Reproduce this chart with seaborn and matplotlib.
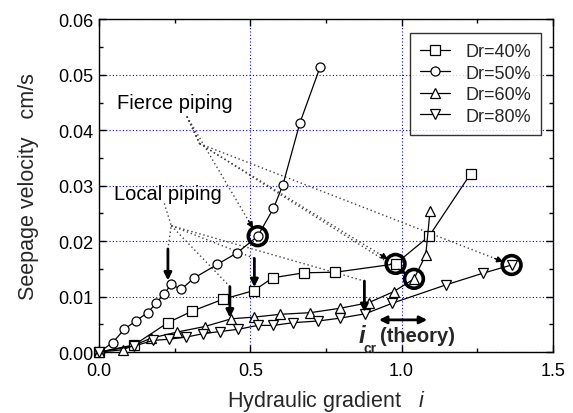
import numpy as np
import matplotlib
matplotlib.use("Agg")
import matplotlib.pyplot as plt
from matplotlib.ticker import MultipleLocator, FormatStrFormatter
import pandas as pd
import seaborn as sns

# Seepage velocity vs hydraulic gradient for four relative densities
gradient_40 = [0.0, 0.116, 0.227, 0.308, 0.408, 0.512, 0.574, 0.678, 0.781, 0.980, 1.091, 1.229]
velocity_40 = [0.0, 0.0013, 0.0053, 0.0074, 0.0095, 0.0111, 0.0134, 0.0143, 0.0144, 0.0159, 0.0209, 0.0322]

gradient_50 = [0.0, 0.044, 0.083, 0.120, 0.160, 0.188, 0.213, 0.238, 0.271, 0.312, 0.390,
               0.456, 0.524, 0.576, 0.607, 0.664, 0.731]
velocity_50 = [0.0, 0.0017, 0.0041, 0.0056, 0.0071, 0.0088, 0.0104, 0.0122, 0.0113, 0.0133, 0.0158,
               0.0179, 0.0209, 0.0259, 0.0301, 0.0414, 0.0515]

gradient_60 = [0.0, 0.077, 0.172, 0.257, 0.349, 0.437, 0.512, 0.598, 0.698, 0.797, 0.891,
               0.974, 1.041, 1.080, 1.094]
velocity_60 = [0.0, 0.0004, 0.0025, 0.0036, 0.0046, 0.0060, 0.0063, 0.0068, 0.0071, 0.0079, 0.0089,
               0.0109, 0.0132, 0.0175, 0.0254]

gradient_80 = [0.0, 0.116, 0.179, 0.229, 0.288, 0.343, 0.399, 0.460, 0.524, 0.576, 0.642,
               0.725, 0.795, 0.880, 0.969, 1.146, 1.268, 1.364]
velocity_80 = [0.0, 0.0011, 0.0021, 0.0023, 0.0027, 0.0033, 0.0037, 0.0041, 0.0048, 0.0048, 0.0053,
               0.0056, 0.0061, 0.0069, 0.0088, 0.0121, 0.0142, 0.0157]

series_labels = ["Dr=40%", "Dr=50%", "Dr=60%", "Dr=80%"]
series_markers = ["s", "o", "^", "v"]

# Onset of fierce piping (ringed points) for each series
fierce_gradient = [0.524, 0.980, 1.041, 1.364]
fierce_velocity = [0.0209, 0.0159, 0.0132, 0.0157]

# Onset of local piping (arrowed points)
local_gradient = [0.227, 0.432, 0.513, 0.877]
local_arrow_top = [0.0186, 0.0118, 0.0169, 0.0128]
local_arrow_tip = [0.0129, 0.0062, 0.0117, 0.0072]

# Theoretical critical gradient range
icr_range = [0.925, 1.085]

sns.set_theme(style="ticks")
plt.rcParams["font.family"] = ["Liberation Sans", "DejaVu Sans"]
plt.rcParams["mathtext.fontset"] = "custom"
plt.rcParams["mathtext.rm"] = "Liberation Sans"
plt.rcParams["mathtext.it"] = "Liberation Sans:italic"
plt.rcParams["mathtext.bf"] = "Liberation Sans:bold"

fig = plt.figure(figsize=(5.73, 4.14), dpi=100)
ax = fig.add_axes([0.1733, 0.1473, 0.7913, 0.8032])
ax.set_xlim(0, 1.5)
ax.set_ylim(0, 0.06)

frames = []
for lab, gx, vy in zip(series_labels,
                       [gradient_40, gradient_50, gradient_60, gradient_80],
                       [velocity_40, velocity_50, velocity_60, velocity_80]):
    frames.append(pd.DataFrame({"gradient": gx, "velocity": vy, "series": lab}))
data = pd.concat(frames, ignore_index=True)

for lab, mk in zip(series_labels, series_markers):
    sub = data[data["series"] == lab]
    sns.lineplot(data=sub, x="gradient", y="velocity", ax=ax, label=lab,
                 estimator=None, sort=False, color="black", linewidth=0.9,
                 marker=mk, markersize=6.5, markerfacecolor="white",
                 markeredgecolor="black", markeredgewidth=0.9,
                 clip_on=False, zorder=3)

# Rings around fierce-piping points
sns.scatterplot(x=fierce_gradient, y=fierce_velocity, ax=ax, s=13.5 ** 2,
                facecolor="none", edgecolor="black", linewidth=2.6,
                zorder=4, legend=False)

# Local piping arrows
for gx, top, tip in zip(local_gradient, local_arrow_top, local_arrow_tip):
    ax.annotate("", xy=(gx, tip), xytext=(gx, top),
                arrowprops=dict(arrowstyle="-|>", color="black", lw=2.0,
                                mutation_scale=11, shrinkA=0, shrinkB=0),
                zorder=5)

dot_style = dict(color="0.25", linestyle=(0, (1, 2.0)), linewidth=1.0, zorder=2)

# Leader lines from "Local piping"
local_origin = (0.215, 0.0268)
local_branch = (0.238, 0.0228)
ax.plot([local_origin[0], local_branch[0], local_gradient[0]],
        [local_origin[1], local_branch[1], local_arrow_top[0]], **dot_style)
for gx, top in zip(local_gradient[1:], local_arrow_top[1:]):
    ax.plot([local_branch[0], gx], [local_branch[1], top], **dot_style)

# Leader lines from "Fierce piping", ending with small heads at each ring
fig.canvas.draw()
to_px = ax.transData.transform
to_data = ax.transData.inverted().transform
fierce_origin = (0.290, 0.0425)
fierce_branch = (0.332, 0.0376)
ring_r = 9.0
for k, (cx, cy) in enumerate(zip(fierce_gradient, fierce_velocity)):
    start = fierce_origin if k == 0 else fierce_branch
    s_px = to_px(start)
    c_px = to_px((cx, cy))
    d = c_px - s_px
    u = d / np.hypot(*d)
    end = to_data(c_px - u * ring_r)
    back = to_data(c_px - u * (ring_r + 9))
    if k == 0:
        ax.plot([start[0], end[0]], [start[1], end[1]], **dot_style)
    else:
        ax.plot([fierce_origin[0], fierce_branch[0]], [fierce_origin[1], fierce_branch[1]], **dot_style)
        ax.plot([start[0], end[0]], [start[1], end[1]], **dot_style)
    ax.annotate("", xy=end, xytext=back,
                arrowprops=dict(arrowstyle="-|>", color="black", lw=1.0,
                                mutation_scale=9, shrinkA=0, shrinkB=0),
                zorder=5)

ax.text(0.06, 0.045, "Fierce piping", fontsize=14.5, ha="left", va="center", color="black")
ax.text(0.05, 0.0286, "Local piping", fontsize=14.5, ha="left", va="center", color="black")

# Theoretical critical gradient
ax.annotate("", xy=(icr_range[1], 0.0058), xytext=(icr_range[0], 0.0058),
            arrowprops=dict(arrowstyle="<|-|>", color="black", lw=2.0,
                            mutation_scale=11, shrinkA=0, shrinkB=0), zorder=5)
ax.text(0.858, 0.0029, "i", fontsize=17, fontweight="bold", fontstyle="italic",
        ha="left", va="center")
ax.text(0.874, 0.0008, "cr", fontsize=10, fontweight="bold", ha="left", va="center")
ax.text(0.929, 0.0029, "(theory)", fontsize=14.5, fontweight="bold", ha="left", va="center")

# Axes styling
ax.xaxis.set_major_locator(MultipleLocator(0.5))
ax.xaxis.set_minor_locator(MultipleLocator(0.25))
ax.yaxis.set_major_locator(MultipleLocator(0.01))
ax.yaxis.set_minor_locator(MultipleLocator(0.005))
ax.xaxis.set_major_formatter(FormatStrFormatter("%.1f"))
ax.yaxis.set_major_formatter(FormatStrFormatter("%.2f"))
ax.tick_params(which="both", direction="in", top=True, right=True,
               colors="black", width=1.0)
ax.tick_params(which="major", length=5, labelsize=13)
ax.tick_params(axis="x", which="major", pad=7)
ax.tick_params(axis="y", which="major", pad=4)
ax.tick_params(which="minor", length=3)
for sp in ax.spines.values():
    sp.set_visible(True)
    sp.set_color("black")
    sp.set_linewidth(1.0)
ax.set_axisbelow(True)
ax.grid(True, which="major", color="blue", linestyle=(0, (1, 2)), linewidth=0.8)

ax.set_xlabel("Hydraulic gradient   $\\mathit{i}$", fontsize=15.5, labelpad=7)
ax.set_ylabel("Seepage velocity   cm/s", fontsize=15.5, labelpad=14)

leg = ax.legend(loc="upper right", bbox_to_anchor=(0.974, 0.959), borderaxespad=0,
                frameon=True, fancybox=False, edgecolor="black", fontsize=13,
                handlelength=1.65, handletextpad=0.85, labelspacing=0.25,
                borderpad=0.55)
leg.get_frame().set_linewidth(1.0)

fig.savefig("out.png", dpi=100, facecolor="white")
